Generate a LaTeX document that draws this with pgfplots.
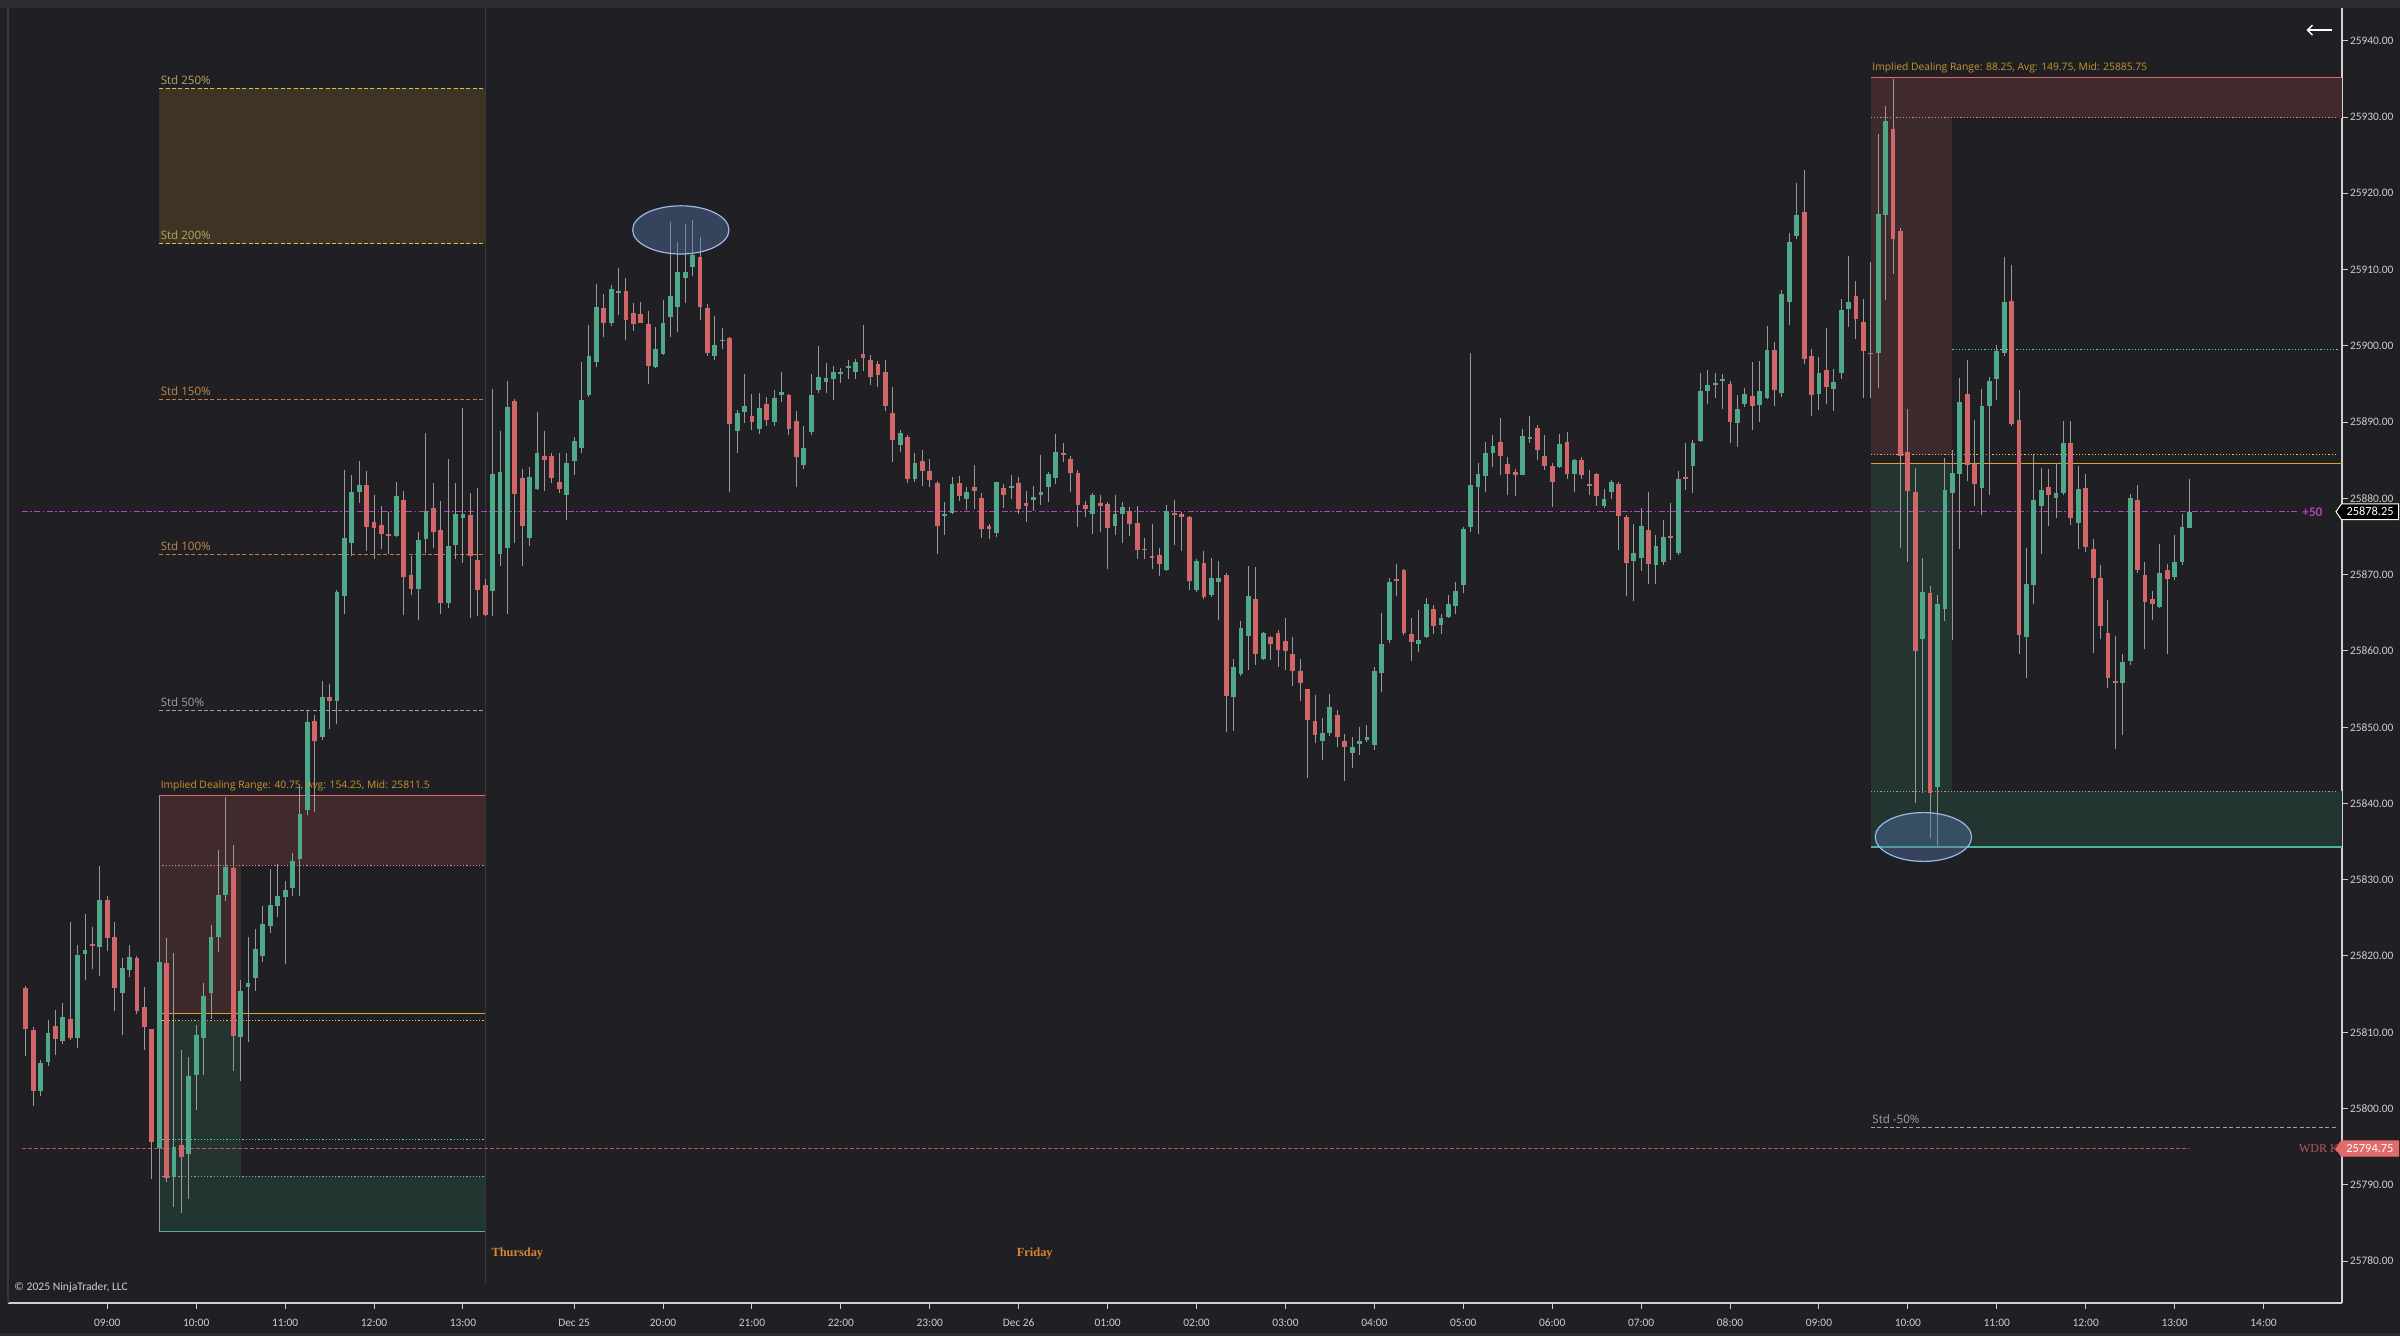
\documentclass[border=0pt]{standalone}
\usepackage{pgfplots}
\pgfplotsset{compat=1.18}
\usepackage{pgfplotstable}
\usepackage{fontspec}
\setmainfont{Carlito}
\newfontfamily\serifb{Liberation Serif}
\newfontfamily\lab{Open Sans}
\usetikzlibrary{shapes.symbols,arrows.meta}

\definecolor{bg}{HTML}{201F23}
\definecolor{topstrip}{HTML}{2C2B2F}
\definecolor{axcol}{HTML}{D0D0D0}
\definecolor{ticktext}{HTML}{CFCFCF}
\definecolor{upc}{HTML}{4FA88A}
\definecolor{dnc}{HTML}{D06668}
\definecolor{wick}{HTML}{9A9A9A}
\definecolor{olivebox}{HTML}{3D3424}
\definecolor{redbox}{HTML}{402A2C}
\definecolor{rednarrow}{HTML}{3C2A2C}
\definecolor{greenbox}{HTML}{233530}
\definecolor{greennarrow}{HTML}{243430}
\definecolor{stdyel}{HTML}{D8C050}
\definecolor{stdyeltxt}{HTML}{B8A45C}
\definecolor{stdor}{HTML}{C87A30}
\definecolor{stdortxt}{HTML}{C08A4A}
\definecolor{stdgray}{HTML}{A0A0A0}
\definecolor{idrtxt}{HTML}{C8962E}
\definecolor{idrred}{HTML}{E06A6A}
\definecolor{idrpink}{HTML}{D08888}
\definecolor{idror}{HTML}{E0A030}
\definecolor{idrorl}{HTML}{E8B848}
\definecolor{idrteal}{HTML}{4FB39A}
\definecolor{idrteald}{HTML}{5FC8B8}
\definecolor{magen}{HTML}{B840C0}
\definecolor{wdr}{HTML}{B85858}
\definecolor{wdrbox}{HTML}{E06C6C}
\definecolor{sepcol}{HTML}{38373C}
\definecolor{elfill}{HTML}{5475AD}
\definecolor{eldraw}{HTML}{9AB8E8}
\definecolor{daycol}{HTML}{D4882C}

\pgfplotstableread{
x o h l c
-11 25815.8 25816.2 25807.0 25810.5
-10 25810.3 25810.8 25800.5 25802.3
-9 25802.3 25806.5 25801.7 25806.0
-8 25806.0 25811.7 25805.7 25809.9
-7 25810.8 25812.9 25807.0 25809.1
-6 25808.9 25813.9 25808.5 25812.0
-5 25811.9 25824.5 25809.0 25809.4
-4 25809.4 25821.5 25807.9 25820.2
-3 25820.2 25825.6 25817.0 25820.8
-2 25821.5 25823.9 25818.4 25821.4
-1 25821.3 25831.8 25817.4 25827.5
0 25827.5 25828.0 25820.8 25822.5
1 25822.7 25824.5 25812.9 25816.0
2 25815.3 25819.8 25809.8 25818.6
3 25818.2 25821.6 25817.4 25819.9
4 25819.9 25820.1 25812.5 25812.9
5 25813.4 25815.9 25807.7 25810.8
6 25810.5 25810.5 25790.9 25795.7
7 25795.0 25827.5 25789.0 25819.3
8 25819.25 25822.5 25790.5 25791.1
9 25791.1 25820.4 25787.1 25795.0
10 25795.3 25807.7 25786.3 25793.7
11 25794.0 25806.8 25788.2 25804.2
12 25804.5 25811.0 25799.8 25809.7
13 25809.4 25816.4 25804.4 25815.0
14 25815.2 25824.1 25811.9 25822.6
15 25822.7 25833.9 25820.6 25828.2
16 25828.0 25840.9 25827.3 25831.7
17 25831.6 25834.6 25805.0 25809.5
18 25809.5 25816.9 25803.7 25815.5
19 25816.0 25822.5 25808.8 25816.5
20 25817.1 25823.7 25815.5 25820.8
21 25820.2 25826.7 25819.3 25824.3
22 25824.0 25831.5 25823.1 25826.8
23 25826.5 25832.1 25825.2 25827.9
24 25827.8 25830.0 25819.1 25828.8
25 25829.0 25833.5 25827.9 25832.6
26 25832.8 25842.4 25828.0 25838.7
27 25839.2 25852.2 25838.6 25850.8
28 25850.8 25851.6 25838.9 25848.2
29 25848.7 25856.1 25848.4 25854.0
30 25854.0 25855.7 25849.7 25853.5
31 25853.5 25868.1 25850.4 25867.8
32 25867.3 25883.9 25865.0 25874.8
33 25874.3 25883.2 25872.6 25881.0
34 25881.0 25884.9 25879.4 25881.9
35 25881.9 25883.7 25873.2 25876.5
36 25876.9 25880.6 25872.2 25876.2
37 25876.5 25879.1 25873.4 25875.3
38 25875.3 25878.4 25872.9 25875.2
39 25875.1 25882.2 25875.0 25880.3
40 25879.9 25881.0 25864.7 25869.8
41 25870.0 25872.6 25867.4 25868.2
42 25868.1 25875.6 25864.0 25874.5
43 25874.8 25888.7 25872.9 25878.4
44 25878.9 25882.2 25873.7 25875.8
45 25876.0 25879.8 25865.0 25866.4
46 25866.4 25885.3 25865.7 25873.9
47 25873.9 25882.2 25872.2 25878.0
48 25877.4 25891.8 25871.5 25878.0
49 25877.8 25880.8 25864.3 25872.4
50 25872.1 25881.5 25864.7 25868.2
51 25868.8 25869.5 25864.7 25864.8
52 25868.0 25894.5 25864.7 25883.3
53 25872.8 25889.0 25871.2 25883.5
54 25873.5 25895.5 25865.0 25892.0
55 25892.8 25893.1 25874.3 25880.6
56 25882.8 25883.9 25871.2 25876.5
57 25874.8 25884.2 25873.9 25882.8
58 25881.3 25891.4 25881.1 25886.1
59 25885.7 25888.9 25881.1 25885.2
60 25885.5 25886.0 25882.1 25882.7
61 25882.2 25886.0 25880.7 25881.2
62 25880.5 25886.0 25877.2 25884.7
63 25885.0 25888.2 25883.2 25887.7
64 25886.7 25897.9 25886.0 25893.0
65 25893.6 25902.8 25893.4 25898.8
66 25897.9 25908.3 25897.4 25905.2
67 25904.9 25906.8 25901.2 25903.0
68 25903.0 25908.0 25902.7 25907.4
69 25907.2 25910.3 25904.2 25907.3
70 25907.2 25909.0 25900.8 25903.5
71 25904.4 25905.6 25902.0 25903.0
72 25904.3 25905.8 25903.0 25903.2
73 25903.0 25904.7 25895.1 25897.4
74 25897.4 25902.6 25897.3 25899.7
75 25899.1 25906.2 25898.9 25903.2
76 25903.8 25916.3 25901.2 25906.6
77 25905.2 25913.8 25901.9 25909.8
78 25909.0 25916.0 25905.7 25909.7
79 25910.5 25916.5 25909.2 25912.0
80 25911.8 25914.3 25903.4 25905.2
81 25905.0 25905.6 25898.8 25899.0
82 25898.8 25903.9 25898.2 25900.2
83 25900.8 25902.4 25899.7 25900.9
84 25901.0 25901.2 25880.9 25889.8
85 25888.9 25891.8 25886.1 25891.3
86 25891.5 25896.3 25889.9 25892.2
87 25890.9 25893.7 25889.0 25890.0
88 25889.2 25893.9 25888.5 25891.9
89 25892.4 25893.4 25889.6 25890.3
90 25890.0 25894.3 25889.6 25893.2
91 25893.6 25896.6 25892.7 25894.0
92 25893.6 25893.8 25888.4 25889.2
93 25890.3 25891.6 25881.6 25885.5
94 25884.5 25889.6 25883.9 25886.7
95 25888.7 25896.4 25888.4 25893.6
96 25894.3 25900.1 25893.9 25896.0
97 25895.3 25897.9 25893.9 25895.8
98 25895.8 25897.3 25892.9 25896.7
99 25896.5 25897.1 25895.2 25896.7
100 25897.1 25898.2 25895.7 25897.4
101 25896.7 25898.4 25895.8 25898.0
102 25899.0 25902.8 25896.7 25898.5
103 25898.3 25898.8 25894.9 25896.0
104 25897.8 25898.2 25894.7 25896.3
105 25896.7 25898.2 25891.4 25892.2
106 25891.3 25894.8 25884.9 25887.7
107 25887.1 25888.9 25886.0 25888.6
108 25888.2 25888.4 25882.1 25882.7
109 25882.7 25886.0 25882.2 25884.7
110 25885.0 25886.4 25881.6 25883.7
111 25883.6 25885.2 25881.6 25882.5
112 25882.2 25882.4 25872.8 25876.5
113 25877.9 25879.6 25875.3 25878.0
114 25878.2 25883.0 25878.1 25882.0
115 25882.1 25883.0 25879.7 25880.4
116 25880.0 25881.6 25878.5 25880.9
117 25881.5 25884.4 25878.7 25881.0
118 25880.0 25880.7 25874.8 25876.0
119 25876.4 25876.8 25874.8 25876.0
120 25875.5 25882.2 25875.0 25882.1
121 25881.4 25881.9 25878.7 25880.6
122 25881.5 25883.1 25880.0 25881.6
123 25882.1 25882.9 25878.1 25878.7
124 25879.5 25881.1 25877.0 25879.2
125 25879.9 25881.6 25878.4 25880.3
126 25880.6 25885.7 25879.2 25881.0
127 25881.5 25883.6 25879.6 25883.2
128 25882.7 25888.5 25881.9 25886.1
129 25886.0 25887.2 25884.7 25885.7
130 25885.2 25885.6 25881.0 25883.4
131 25883.4 25883.7 25876.3 25879.2
132 25879.2 25879.6 25877.6 25878.7
133 25878.1 25880.7 25875.3 25880.5
134 25879.5 25880.5 25875.6 25879.2
135 25879.3 25879.6 25870.8 25876.2
136 25876.5 25880.6 25875.3 25878.1
137 25878.0 25879.6 25874.2 25879.0
138 25878.4 25879.1 25875.3 25876.7
139 25876.7 25879.1 25872.1 25873.2
140 25873.4 25874.8 25872.1 25873.3
141 25872.5 25876.7 25870.8 25872.4
142 25872.7 25873.7 25870.0 25871.5
143 25870.7 25879.1 25870.5 25878.5
144 25878.2 25880.0 25874.1 25878.0
145 25878.0 25878.3 25873.2 25877.6
146 25877.5 25877.7 25868.0 25869.1
147 25868.0 25872.2 25867.8 25871.8
148 25871.5 25873.2 25866.9 25867.1
149 25867.3 25872.2 25867.1 25869.5
150 25869.1 25871.9 25864.1 25869.7
151 25870.0 25870.3 25849.4 25854.2
152 25854.0 25859.0 25849.6 25857.9
153 25857.0 25864.0 25856.8 25863.0
154 25862.1 25871.1 25857.5 25867.3
155 25866.8 25871.1 25858.2 25859.7
156 25858.9 25862.5 25858.8 25862.3
157 25861.9 25862.1 25859.0 25861.0
158 25862.4 25862.7 25857.9 25860.2
159 25861.5 25864.3 25857.5 25860.2
160 25859.6 25862.0 25855.5 25857.4
161 25857.5 25859.0 25853.5 25856.0
162 25855.0 25855.1 25843.5 25851.0
163 25850.9 25854.4 25848.1 25849.1
164 25848.3 25851.4 25845.9 25849.3
165 25849.4 25854.4 25849.0 25852.8
166 25851.7 25852.3 25847.5 25848.8
167 25848.3 25849.0 25842.9 25847.5
168 25846.7 25848.8 25844.7 25847.5
169 25847.8 25850.1 25846.4 25848.3
170 25848.5 25850.3 25848.0 25848.8
171 25847.7 25857.9 25847.0 25857.5
172 25857.2 25865.0 25854.7 25861.0
173 25861.4 25869.7 25861.2 25869.0
174 25869.5 25871.4 25867.2 25869.3
175 25870.7 25870.8 25862.2 25862.4
176 25862.3 25864.5 25858.8 25861.2
177 25861.0 25865.4 25859.9 25861.5
178 25861.8 25866.9 25861.7 25866.2
179 25865.7 25866.2 25862.3 25863.4
180 25863.4 25864.9 25862.3 25864.3
181 25864.5 25867.3 25864.3 25866.2
182 25866.0 25869.1 25864.9 25868.0
183 25868.7 25876.3 25867.6 25876.0
184 25876.4 25899.0 25875.6 25881.8
185 25881.6 25884.7 25875.3 25883.3
186 25883.0 25887.5 25880.9 25886.0
187 25886.0 25888.5 25884.2 25887.0
188 25887.5 25890.6 25883.1 25885.7
189 25884.5 25885.5 25880.5 25883.2
190 25883.4 25884.0 25880.5 25883.0
191 25883.2 25889.1 25883.1 25888.3
192 25888.0 25890.8 25887.2 25888.0
193 25889.3 25889.6 25885.0 25886.4
194 25885.6 25888.2 25883.7 25884.2
195 25884.3 25884.8 25879.0 25882.2
196 25884.2 25888.5 25884.1 25887.2
197 25887.5 25888.8 25882.6 25883.2
198 25883.2 25885.3 25880.9 25885.0
199 25885.0 25885.5 25882.6 25883.0
200 25881.8 25883.8 25880.6 25881.6
201 25883.1 25883.4 25879.1 25880.2
202 25879.1 25881.2 25878.8 25880.0
203 25880.9 25882.5 25880.0 25882.2
204 25882.0 25882.2 25873.2 25877.8
205 25877.5 25877.8 25867.2 25871.5
206 25871.8 25876.7 25866.7 25872.9
207 25872.3 25878.9 25870.6 25876.5
208 25875.9 25880.9 25868.9 25871.5
209 25871.3 25875.4 25868.9 25873.7
210 25871.7 25877.1 25871.3 25875.1
211 25875.1 25879.5 25872.0 25874.9
212 25872.9 25883.7 25872.7 25882.6
213 25882.9 25887.4 25881.3 25882.8
214 25884.3 25887.8 25880.9 25887.3
215 25887.6 25896.4 25887.4 25894.1
216 25894.2 25896.9 25892.4 25895.0
217 25895.0 25896.5 25893.3 25895.1
218 25895.5 25896.4 25891.9 25895.8
219 25895.0 25895.5 25887.3 25890.0
220 25890.0 25893.6 25886.8 25891.9
221 25892.4 25894.6 25892.1 25893.7
222 25893.5 25897.9 25889.0 25892.2
223 25892.4 25898.1 25890.2 25894.2
224 25893.3 25902.7 25893.1 25899.6
225 25899.4 25900.5 25892.1 25894.2
226 25893.9 25907.3 25893.3 25906.8
227 25905.9 25915.0 25902.9 25913.7
228 25914.5 25921.4 25914.0 25917.3
229 25917.6 25923.1 25897.7 25898.4
230 25898.7 25899.6 25890.9 25893.6
231 25893.7 25898.7 25891.7 25896.5
232 25896.9 25902.4 25892.4 25894.6
233 25894.4 25897.0 25891.4 25895.2
234 25896.5 25906.3 25895.7 25904.7
235 25905.0 25911.8 25902.5 25905.9
236 25906.5 25908.6 25901.0 25903.5
237 25903.2 25906.3 25893.3 25899.4
238 25899.2 25911.1 25893.3 25899.0
239 25899.1 25927.9 25894.6 25917.3
240 25917.3 25931.5 25906.1 25929.6
241 25928.4 25935.1 25909.5 25914.0
242 25915.1 25915.6 25873.6 25885.6
243 25886.1 25891.7 25871.7 25880.9
244 25880.9 25884.0 25840.1 25860.1
245 25861.5 25872.3 25841.5 25867.7
246 25867.7 25868.6 25835.6 25841.5
247 25842.2 25867.4 25834.3 25866.2
248 25865.6 25885.4 25864.1 25881.1
249 25880.7 25886.4 25861.4 25883.3
250 25883.3 25895.8 25873.4 25892.7
251 25893.7 25898.1 25882.3 25884.4
252 25884.5 25890.2 25878.9 25881.9
253 25881.4 25894.4 25877.8 25892.2
254 25892.2 25896.0 25880.6 25895.5
255 25895.8 25900.1 25892.9 25899.4
256 25899.1 25911.8 25898.8 25905.9
257 25905.9 25910.6 25889.5 25889.8
258 25890.3 25894.4 25859.7 25862.2
259 25861.9 25873.7 25856.6 25868.8
260 25868.6 25885.9 25866.2 25879.8
261 25879.0 25884.0 25872.7 25881.1
262 25881.6 25884.0 25876.5 25880.6
263 25880.2 25884.7 25877.5 25880.9
264 25880.7 25890.2 25880.6 25887.3
265 25887.3 25890.2 25876.5 25877.5
266 25877.0 25884.3 25873.4 25881.4
267 25881.4 25883.3 25873.0 25873.7
268 25873.4 25874.7 25859.7 25869.6
269 25869.5 25871.3 25861.5 25863.3
270 25862.4 25866.7 25855.2 25856.6
271 25856.0 25862.1 25847.3 25855.9
272 25855.9 25859.7 25849.0 25858.6
273 25858.8 25880.7 25858.3 25880.2
274 25879.9 25881.8 25870.3 25870.6
275 25870.1 25871.7 25860.3 25866.5
276 25866.9 25867.9 25864.1 25866.2
277 25866.0 25874.0 25865.6 25870.4
278 25870.8 25871.5 25859.7 25869.6
279 25869.8 25875.4 25869.5 25871.8
280 25871.7 25878.0 25871.3 25876.3
281 25876.2 25882.6 25876.3 25878.25
}\candles

\begin{document}
\begin{tikzpicture}
\fill[bg] (0,0) rectangle (1200pt,668pt);
\fill[topstrip] (0,664pt) rectangle (1200pt,668pt);
\fill[topstrip] (0,0) rectangle (1200pt,1.5pt);
\begin{axis}[
  at={(4pt,16.5pt)}, anchor=south west,
  scale only axis, width=1167pt, height=647.5pt,
  xmin=-13.4, xmax=301.6, ymin=25774.5, ymax=25944.3,
  clip=false,
  axis x line*=bottom, axis y line*=right,
  axis line style={draw=axcol, line width=0.6pt, -},
  xtick={0,12,24,36,48,63,75,87,99,111,123,135,147,159,171,183,195,207,219,231,243,255,267,279,291},
  xticklabels={09:00,10:00,11:00,12:00,13:00,Dec 25,20:00,21:00,22:00,23:00,Dec 26,01:00,02:00,03:00,04:00,05:00,06:00,07:00,08:00,09:00,10:00,11:00,12:00,13:00,14:00},
  ytick={25780,25790,25800,25810,25820,25830,25840,25850,25860,25870,25880,25890,25900,25910,25920,25930,25940},
  scaled y ticks=false,
  /pgf/number format/assume math mode=true,
  yticklabel style={/pgf/number format/fixed, /pgf/number format/fixed zerofill, /pgf/number format/precision=2, /pgf/number format/1000 sep={}},
  tick align=outside, major tick length=3pt,
  tick style={draw=axcol, line width=0.5pt},
  ticklabel style={font=\fontsize{5.7}{6}\selectfont, text=ticktext},
  xticklabel style={yshift=-1.5pt},
  yticklabel style={xshift=0.3pt, inner xsep=0.5pt},
]
% left std box
\addplot[fill=olivebox, draw=none, forget plot] coordinates {(7,25913.375) (51,25913.375) (51,25933.75) (7,25933.75)} -- cycle;
% left IDR boxes
\addplot[fill=redbox, draw=none, forget plot] coordinates {(7,25831.875) (51,25831.875) (51,25841) (7,25841)} -- cycle;
\addplot[fill=rednarrow, draw=none, forget plot] coordinates {(7,25812.5) (18,25812.5) (18,25831.875) (7,25831.875)} -- cycle;
\addplot[fill=greennarrow, draw=none, forget plot] coordinates {(7,25791.125) (18,25791.125) (18,25811.5) (7,25811.5)} -- cycle;
\addplot[fill=greenbox, draw=none, forget plot] coordinates {(7,25783.9) (51,25783.9) (51,25791.125) (7,25791.125)} -- cycle;
% right IDR boxes
\addplot[fill=redbox, draw=none, forget plot] coordinates {(238,25929.875) (301.6,25929.875) (301.6,25935.2) (238,25935.2)} -- cycle;
\addplot[fill=rednarrow, draw=none, forget plot] coordinates {(238,25885.75) (249,25885.75) (249,25929.875) (238,25929.875)} -- cycle;
\addplot[fill=greennarrow, draw=none, forget plot] coordinates {(238,25841.625) (249,25841.625) (249,25884.6) (238,25884.6)} -- cycle;
\addplot[fill=greenbox, draw=none, forget plot] coordinates {(238,25834.3) (301.6,25834.3) (301.6,25841.625) (238,25841.625)} -- cycle;
% separator
\addplot[draw=sepcol, line width=0.5pt, forget plot] coordinates {(51,25777) (51,25944.3)};
% std lines
\addplot[draw=stdyel, line width=0.5pt, dash pattern=on 2pt off 1.2pt, forget plot] coordinates {(7,25933.75) (51,25933.75)};
\addplot[draw=stdyel, line width=0.5pt, dash pattern=on 2pt off 1.2pt, forget plot] coordinates {(7,25913.375) (51,25913.375)};
\addplot[draw=stdor, line width=0.5pt, dash pattern=on 2pt off 1.2pt, forget plot] coordinates {(7,25893) (51,25893)};
\addplot[draw=stdor, line width=0.5pt, dash pattern=on 2pt off 1.2pt, forget plot] coordinates {(7,25872.625) (51,25872.625)};
\addplot[draw=stdgray, line width=0.5pt, dash pattern=on 2pt off 1.2pt, forget plot] coordinates {(7,25852.25) (51,25852.25)};
\addplot[draw=stdgray, line width=0.5pt, dash pattern=on 2pt off 1.2pt, forget plot] coordinates {(238,25797.5) (301,25797.5)};
% left IDR lines
\addplot[draw=idrred, line width=0.6pt, forget plot] coordinates {(7,25841) (51,25841)};
\addplot[draw=idrpink, line width=0.5pt, dash pattern=on 0.6pt off 1pt, forget plot] coordinates {(7,25831.875) (51,25831.875)};
\addplot[draw=idror, line width=0.6pt, forget plot] coordinates {(7,25812.5) (51,25812.5)};
\addplot[draw=idrorl, line width=0.5pt, dash pattern=on 0.6pt off 1pt, forget plot] coordinates {(7,25811.5) (51,25811.5)};
\addplot[draw=idrteald, line width=0.5pt, dash pattern=on 0.6pt off 1pt, forget plot] coordinates {(7,25795.9) (51,25795.9)};
\addplot[draw=stdgray, line width=0.5pt, dash pattern=on 0.6pt off 1pt, forget plot] coordinates {(7,25791.125) (51,25791.125)};
\addplot[draw=idrteal, line width=0.6pt, forget plot] coordinates {(7,25783.9) (51,25783.9)};
\addplot[draw=wick, line width=0.5pt, forget plot] coordinates {(7,25783.9) (7,25841)};
% right IDR lines
\addplot[draw=idrred, line width=0.6pt, forget plot] coordinates {(238,25935.2) (301.6,25935.2)};
\addplot[draw=idrpink, line width=0.5pt, dash pattern=on 0.6pt off 1pt, forget plot] coordinates {(238,25929.875) (301,25929.875)};
\addplot[draw=idrteald, line width=0.5pt, dash pattern=on 0.6pt off 1pt, forget plot] coordinates {(249,25899.5) (301,25899.5)};
\addplot[draw=idrorl, line width=0.5pt, dash pattern=on 0.6pt off 1pt, forget plot] coordinates {(238,25885.75) (301,25885.75)};
\addplot[draw=idror, line width=0.6pt, forget plot] coordinates {(238,25884.6) (301.6,25884.6)};
\addplot[draw=stdgray, line width=0.5pt, dash pattern=on 0.6pt off 1pt, forget plot] coordinates {(238,25841.625) (301,25841.625)};
\addplot[draw=idrteal, line width=0.6pt, forget plot] coordinates {(238,25834.3) (301.6,25834.3)};
% magenta and WDR lines
\addplot[draw=magen, line width=0.5pt, dash pattern=on 3pt off 1.2pt on 0.8pt off 1.2pt, forget plot] coordinates {(-11.5,25878.25) (295.5,25878.25)};
\addplot[draw=wdr, line width=0.5pt, dash pattern=on 2pt off 1pt, forget plot] coordinates {(-11.5,25794.75) (281,25794.75)};
% wicks
\addplot[draw=none, mark=none, forget plot,
  error bars/.cd, y dir=both, y explicit, error mark=none,
  error bar style={draw=wick, line width=0.5pt}]
  table[x=x, y expr={(\thisrow{h}+\thisrow{l})/2}, y error expr={(\thisrow{h}-\thisrow{l})/2}] {\candles};
% up bodies
\addplot[draw=none, mark=none, forget plot,
  restrict expr to domain={\thisrow{c}-\thisrow{o}}{0:1000},
  error bars/.cd, y dir=both, y explicit, error mark=none,
  error bar style={draw=upc, line width=2.4pt}]
  table[x=x, y expr={(\thisrow{o}+\thisrow{c})/2}, y error expr={max(abs(\thisrow{c}-\thisrow{o})/2,0.12)}] {\candles};
% down bodies
\addplot[draw=none, mark=none, forget plot,
  restrict expr to domain={\thisrow{o}-\thisrow{c}}{0.001:1000},
  error bars/.cd, y dir=both, y explicit, error mark=none,
  error bar style={draw=dnc, line width=2.4pt}]
  table[x=x, y expr={(\thisrow{o}+\thisrow{c})/2}, y error expr={max(abs(\thisrow{c}-\thisrow{o})/2,0.12)}] {\candles};
% ellipses
\draw[fill=elfill, fill opacity=0.42, draw=eldraw, line width=0.6pt] (axis cs:77.4,25915.2) ellipse [x radius=6.5, y radius=3.16];
\draw[fill=elfill, fill opacity=0.42, draw=eldraw, line width=0.6pt] (axis cs:245.1,25835.6) ellipse [x radius=6.5, y radius=3.2];
% labels
\node[anchor=south west, inner sep=0.6pt, text=stdyeltxt, font=\lab\fontsize{5.8}{6}\selectfont] at (axis cs:7,25934.1) {Std 250\%};
\node[anchor=south west, inner sep=0.6pt, text=stdyeltxt, font=\lab\fontsize{5.8}{6}\selectfont] at (axis cs:7,25913.7) {Std 200\%};
\node[anchor=south west, inner sep=0.6pt, text=stdortxt, font=\lab\fontsize{5.8}{6}\selectfont] at (axis cs:7,25893.3) {Std 150\%};
\node[anchor=south west, inner sep=0.6pt, text=stdortxt, font=\lab\fontsize{5.8}{6}\selectfont] at (axis cs:7,25872.9) {Std 100\%};
\node[anchor=south west, inner sep=0.6pt, text=stdgray, font=\lab\fontsize{5.8}{6}\selectfont] at (axis cs:7,25852.55) {Std 50\%};
\node[anchor=south west, inner sep=0.6pt, text=stdgray, font=\lab\fontsize{5.8}{6}\selectfont] at (axis cs:238,25797.8) {Std -50\%};
\node[anchor=south west, inner sep=0.6pt, text=idrtxt, font=\lab\fontsize{5.15}{6}\selectfont] at (axis cs:7,25841.4) {Implied Dealing Range: 40.75, Avg: 154.25, Mid: 25811.5};
\node[anchor=south west, inner sep=0.6pt, text=idrtxt, font=\lab\fontsize{5.15}{6}\selectfont] at (axis cs:238,25935.6) {Implied Dealing Range: 88.25, Avg: 149.75, Mid: 25885.75};
\node[anchor=west, inner sep=0pt, text=daycol, font=\serifb\bfseries\fontsize{6.2}{7}\selectfont] at (axis cs:51.8,25781) {Thursday};
\node[anchor=west, inner sep=0pt, text=daycol, font=\serifb\bfseries\fontsize{6.2}{7}\selectfont] at (axis cs:122.7,25781) {Friday};
\node[anchor=west, inner sep=0pt, text=ticktext, font=\fontsize{5.8}{6}\selectfont] at (axis cs:-12.6,25776.6) {\textcopyright{} 2025 NinjaTrader, LLC};
\node[anchor=center, inner sep=0pt, text=magen, font=\bfseries\fontsize{6.6}{7}\selectfont] at (axis cs:297.6,25878.25) {+50};
\node[anchor=east, inner sep=0pt, text=wdr, font=\serifb\fontsize{6}{7}\selectfont] at (axis cs:301.2,25794.75) {WDR K};
\draw[draw=white, line width=0.7pt, -{Straight Barb[length=2.5pt,width=5pt]}] (axis cs:300.2,25941.4) -- (axis cs:296.8,25941.4);
\coordinate (plab) at (axis cs:300.7,25878.25);
\coordinate (wlab) at (axis cs:300.7,25794.75);
\coordinate (lft0) at (axis cs:-13.4,25774.5);
\coordinate (lft1) at (axis cs:-13.4,25944.3);
\end{axis}
\draw[sepcol, line width=0.6pt] (lft0) -- (lft1);
\node[signal, signal to=west, signal pointer angle=110, fill=black, draw=white, line width=0.5pt, text=white, font=\fontsize{6.2}{7}\selectfont, inner xsep=2.5pt, inner ysep=1.8pt, anchor=west] at (plab) {25878.25};
\node[signal, signal to=west, signal pointer angle=110, fill=wdrbox, draw=wdrbox, line width=0.5pt, text=white, font=\fontsize{6.2}{7}\selectfont, inner xsep=2.5pt, inner ysep=1.8pt, anchor=west] at (wlab) {25794.75};
\pgfresetboundingbox
\path[use as bounding box] (0,0) rectangle (1200pt,668pt);
\end{tikzpicture}
\end{document}
